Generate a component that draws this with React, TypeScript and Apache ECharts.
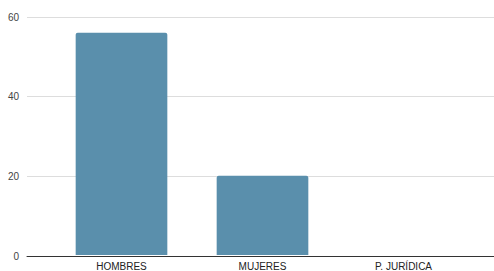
import React, { useEffect, useRef } from "react";
import * as echarts from "echarts";

const categories = ["HOMBRES", "MUJERES", "P. JURÍDICA"];
const values = [56, 20, 0];
const yTicks = [0, 20, 40, 60];

export default function App() {
  const ref = useRef<HTMLDivElement>(null);
  useEffect(() => {
    if (!ref.current) return;
    const chart = echarts.init(ref.current, undefined, { renderer: "svg" });
    chart.setOption({
      animation: false,
      grid: [
        { left: 27, right: 0, top: 17, bottom: 15 },
        { left: 51, right: 20, top: 17, bottom: 15 },
      ],
      xAxis: [
        {
          type: "value",
          gridIndex: 0,
          show: true,
          min: 0,
          max: 1,
          axisLine: { show: true, onZero: false, lineStyle: { color: "#333", width: 1 } },
          axisTick: { show: false },
          axisLabel: { show: false },
          splitLine: { show: false },
        },
        {
          type: "category",
          gridIndex: 1,
          data: categories,
          axisLine: { show: false },
          axisTick: { show: false },
          axisLabel: { color: "#222", fontSize: 10, fontFamily: "'Liberation Sans', Arial, sans-serif", margin: 6 },
        },
      ],
      yAxis: [
        {
          type: "value",
          gridIndex: 0,
          min: yTicks[0],
          max: yTicks[yTicks.length - 1],
          interval: 20,
          axisLine: { show: false },
          axisTick: { show: false },
          axisLabel: { color: "#444", fontSize: 10, fontFamily: "'Liberation Sans', Arial, sans-serif", margin: 8 },
          splitLine: { lineStyle: { color: "#dddddd", width: 1 } },
        },
        {
          type: "value",
          gridIndex: 1,
          min: yTicks[0],
          max: yTicks[yTicks.length - 1],
          interval: 20,
          show: false,
          splitLine: { show: false },
        },
      ],
      series: [
        {
          type: "bar",
          xAxisIndex: 1,
          yAxisIndex: 1,
          data: values,
          barCategoryGap: "35%",
          itemStyle: { color: "#5a8fac", borderRadius: [2, 2, 0, 0] },
          z: 1,
        },
      ],
    });
    return () => chart.dispose();
  }, []);
  return <div ref={ref} style={{ width: 494, height: 271, position: "absolute", left: 0, top: 0 }} />;
}
